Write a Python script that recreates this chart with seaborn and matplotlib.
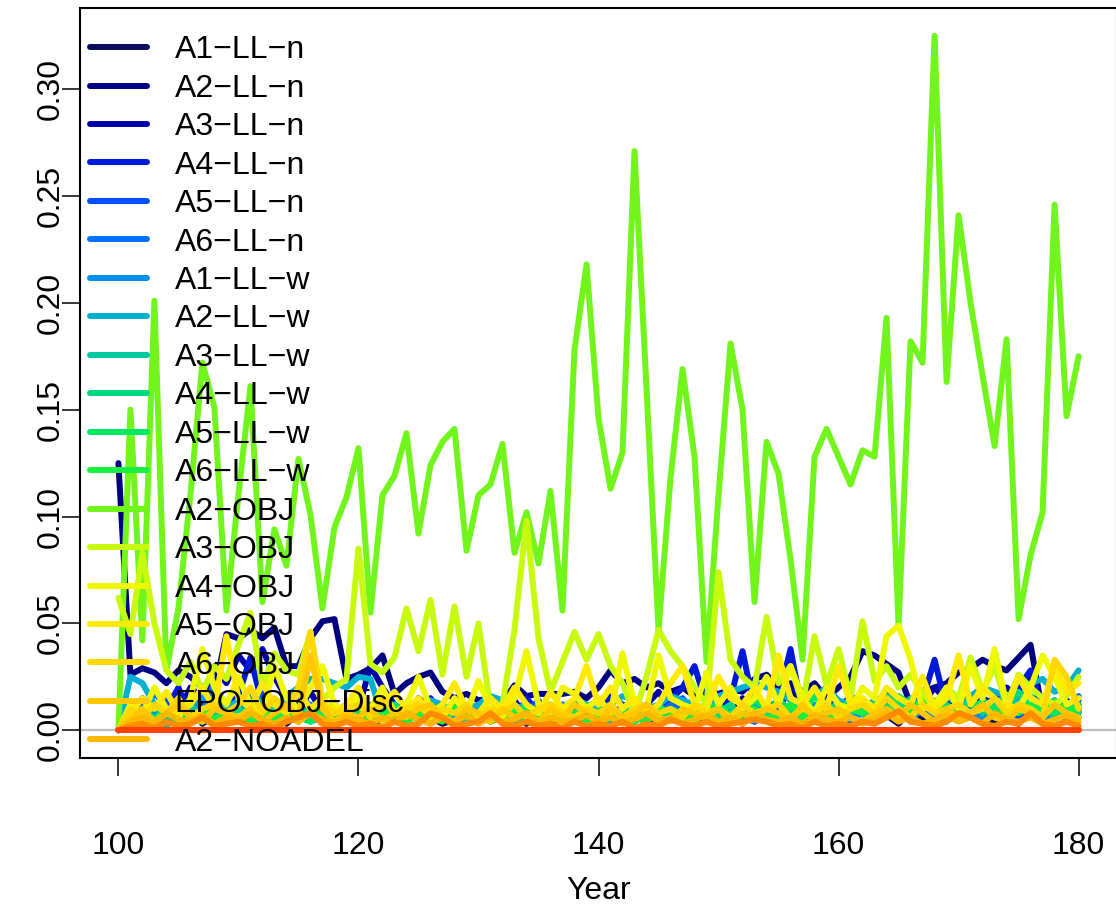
import numpy as np
import pandas as pd
import matplotlib
matplotlib.use("Agg")
import matplotlib.pyplot as plt
from matplotlib.lines import Line2D
import seaborn as sns

years = list(range(100, 181))

series_names = ["A1-LL-n", "A2-LL-n", "A3-LL-n", "A4-LL-n", "A5-LL-n", "A6-LL-n",
                "A1-LL-w", "A2-LL-w", "A3-LL-w", "A4-LL-w", "A5-LL-w", "A6-LL-w",
                "A2-OBJ", "A3-OBJ", "A4-OBJ", "A5-OBJ", "A6-OBJ",
                "EPO-OBJ-Disc", "A2-NOADEL"]
hidden_names = ["extra_1", "extra_2"]

series_colors = ["#0a0a60", "#000080", "#0000a8", "#0018d8", "#0050f8", "#0070ff",
                 "#0090f0", "#00b0d0", "#00c8a0", "#00d880", "#00e860", "#18f040",
                 "#72f51c", "#c8fa10", "#f0f800", "#ffea00", "#ffd800",
                 "#ffc800", "#ffb800"]
hidden_colors = ["#ff8c00", "#ff4000"]

A1_LL_n = [0.000, 0.008, 0.005, 0.010, 0.004, 0.006, 0.012, 0.003, 0.007, 0.009,
           0.005, 0.011, 0.004, 0.006, 0.003, 0.008, 0.005, 0.010, 0.004, 0.006,
           0.008, 0.003, 0.005, 0.007, 0.004, 0.009, 0.006, 0.003, 0.005, 0.008,
           0.004, 0.006, 0.010, 0.005, 0.003, 0.007, 0.004, 0.006, 0.009, 0.005,
           0.008, 0.004, 0.006, 0.011, 0.005, 0.003, 0.007, 0.010, 0.004, 0.006,
           0.005, 0.008, 0.003, 0.009, 0.006, 0.004, 0.007, 0.012, 0.005, 0.008,
           0.004, 0.006, 0.010, 0.005, 0.007, 0.003, 0.009, 0.006, 0.004, 0.008,
           0.005, 0.011, 0.007, 0.004, 0.006, 0.003, 0.010, 0.005, 0.008, 0.012,
           0.009]
A2_LL_n = [0.125, 0.026, 0.029, 0.027, 0.022, 0.028, 0.025, 0.020, 0.018, 0.045,
           0.043, 0.047, 0.043, 0.048, 0.030, 0.030, 0.043, 0.051, 0.052, 0.024,
           0.026, 0.029, 0.035, 0.017, 0.022, 0.025, 0.027, 0.018, 0.015, 0.017,
           0.014, 0.015, 0.013, 0.021, 0.016, 0.017, 0.017, 0.017, 0.018, 0.015,
           0.020, 0.028, 0.022, 0.024, 0.020, 0.022, 0.018, 0.020, 0.016, 0.018,
           0.017, 0.019, 0.018, 0.024, 0.026, 0.020, 0.022, 0.018, 0.022, 0.015,
           0.020, 0.025, 0.037, 0.035, 0.031, 0.027, 0.012, 0.018, 0.020, 0.022,
           0.027, 0.029, 0.033, 0.030, 0.028, 0.034, 0.040, 0.008, 0.010, 0.012,
           0.006]
A3_LL_n = [0.000, 0.010, 0.006, 0.004, 0.012, 0.008, 0.020, 0.015, 0.030, 0.022,
           0.035, 0.028, 0.038, 0.025, 0.015, 0.010, 0.018, 0.008, 0.012, 0.006,
           0.010, 0.030, 0.020, 0.012, 0.008, 0.015, 0.010, 0.006, 0.012, 0.005,
           0.008, 0.004, 0.010, 0.014, 0.006, 0.009, 0.005, 0.012, 0.008, 0.010,
           0.014, 0.008, 0.010, 0.006, 0.012, 0.018, 0.010, 0.014, 0.008, 0.012,
           0.010, 0.006, 0.015, 0.008, 0.012, 0.010, 0.020, 0.012, 0.008, 0.014,
           0.010, 0.016, 0.012, 0.008, 0.015, 0.010, 0.006, 0.012, 0.020, 0.014,
           0.010, 0.008, 0.015, 0.012, 0.020, 0.016, 0.025, 0.010, 0.014, 0.008,
           0.012]
A4_LL_n = [0.000, 0.008, 0.015, 0.005, 0.010, 0.020, 0.006, 0.012, 0.004, 0.010,
           0.016, 0.034, 0.012, 0.008, 0.015, 0.006, 0.010, 0.004, 0.008, 0.012,
           0.006, 0.010, 0.004, 0.008, 0.012, 0.006, 0.015, 0.008, 0.004, 0.010,
           0.006, 0.012, 0.008, 0.005, 0.015, 0.008, 0.004, 0.010, 0.006, 0.012,
           0.008, 0.016, 0.012, 0.008, 0.004, 0.010, 0.014, 0.020, 0.030, 0.012,
           0.008, 0.015, 0.037, 0.010, 0.006, 0.015, 0.038, 0.008, 0.004, 0.012,
           0.008, 0.014, 0.010, 0.006, 0.018, 0.012, 0.008, 0.014, 0.033, 0.010,
           0.006, 0.012, 0.008, 0.016, 0.010, 0.020, 0.028, 0.010, 0.006, 0.014,
           0.010]
A5_LL_n = [0.000, 0.005, 0.012, 0.008, 0.015, 0.004, 0.010, 0.018, 0.006, 0.008,
           0.012, 0.006, 0.020, 0.010, 0.005, 0.014, 0.008, 0.004, 0.010, 0.006,
           0.012, 0.008, 0.004, 0.010, 0.006, 0.014, 0.005, 0.010, 0.008, 0.004,
           0.012, 0.006, 0.010, 0.004, 0.008, 0.014, 0.005, 0.009, 0.012, 0.006,
           0.010, 0.005, 0.012, 0.008, 0.004, 0.010, 0.006, 0.015, 0.008, 0.005,
           0.012, 0.006, 0.010, 0.004, 0.008, 0.012, 0.005, 0.010, 0.006, 0.014,
           0.008, 0.004, 0.012, 0.006, 0.010, 0.005, 0.014, 0.008, 0.004, 0.010,
           0.006, 0.012, 0.004, 0.010, 0.008, 0.005, 0.012, 0.006, 0.010, 0.004,
           0.014]
A6_LL_n = [0.000, 0.012, 0.006, 0.018, 0.010, 0.005, 0.014, 0.008, 0.022, 0.006,
           0.010, 0.015, 0.008, 0.004, 0.012, 0.020, 0.010, 0.006, 0.004, 0.008,
           0.005, 0.010, 0.014, 0.006, 0.004, 0.010, 0.008, 0.012, 0.005, 0.010,
           0.006, 0.010, 0.004, 0.012, 0.008, 0.005, 0.010, 0.006, 0.014, 0.008,
           0.005, 0.012, 0.006, 0.010, 0.004, 0.008, 0.012, 0.006, 0.010, 0.005,
           0.008, 0.012, 0.006, 0.004, 0.010, 0.014, 0.006, 0.010, 0.008, 0.005,
           0.012, 0.006, 0.004, 0.010, 0.008, 0.012, 0.005, 0.010, 0.006, 0.004,
           0.010, 0.006, 0.012, 0.008, 0.004, 0.010, 0.006, 0.014, 0.008, 0.010,
           0.016]
A1_LL_w = [0.000, 0.006, 0.015, 0.010, 0.004, 0.012, 0.008, 0.016, 0.010, 0.006,
           0.014, 0.008, 0.012, 0.006, 0.010, 0.004, 0.012, 0.008, 0.006, 0.010,
           0.008, 0.012, 0.006, 0.010, 0.004, 0.008, 0.012, 0.006, 0.010, 0.005,
           0.010, 0.006, 0.012, 0.008, 0.004, 0.010, 0.006, 0.012, 0.005, 0.008,
           0.012, 0.006, 0.010, 0.004, 0.008, 0.012, 0.006, 0.010, 0.005, 0.012,
           0.006, 0.010, 0.004, 0.012, 0.008, 0.006, 0.010, 0.005, 0.012, 0.008,
           0.010, 0.005, 0.008, 0.012, 0.006, 0.010, 0.004, 0.012, 0.008, 0.006,
           0.012, 0.008, 0.005, 0.010, 0.006, 0.012, 0.008, 0.004, 0.010, 0.012,
           0.008]
A2_LL_w = [0.000, 0.025, 0.022, 0.012, 0.006, 0.010, 0.014, 0.018, 0.012, 0.010,
           0.014, 0.018, 0.012, 0.010, 0.016, 0.020, 0.024, 0.024, 0.022, 0.020,
           0.025, 0.024, 0.006, 0.012, 0.008, 0.010, 0.014, 0.012, 0.008, 0.010,
           0.012, 0.016, 0.014, 0.010, 0.012, 0.008, 0.012, 0.010, 0.014, 0.012,
           0.010, 0.012, 0.016, 0.014, 0.010, 0.012, 0.016, 0.014, 0.012, 0.010,
           0.016, 0.018, 0.020, 0.022, 0.020, 0.018, 0.014, 0.012, 0.016, 0.020,
           0.014, 0.012, 0.010, 0.014, 0.016, 0.012, 0.010, 0.014, 0.012, 0.016,
           0.012, 0.016, 0.020, 0.018, 0.016, 0.014, 0.022, 0.024, 0.018, 0.020,
           0.028]
A3_LL_w = [0.000, 0.004, 0.010, 0.006, 0.002, 0.008, 0.012, 0.004, 0.006, 0.010,
           0.004, 0.008, 0.006, 0.012, 0.005, 0.010, 0.004, 0.006, 0.010, 0.008,
           0.004, 0.010, 0.006, 0.005, 0.012, 0.004, 0.008, 0.006, 0.010, 0.004,
           0.008, 0.005, 0.010, 0.006, 0.004, 0.012, 0.006, 0.008, 0.004, 0.010,
           0.006, 0.004, 0.010, 0.008, 0.005, 0.012, 0.006, 0.004, 0.010, 0.006,
           0.008, 0.004, 0.010, 0.006, 0.012, 0.005, 0.008, 0.004, 0.010, 0.006,
           0.004, 0.010, 0.008, 0.006, 0.012, 0.008, 0.015, 0.010, 0.012, 0.008,
           0.010, 0.014, 0.008, 0.012, 0.016, 0.010, 0.008, 0.012, 0.006, 0.010,
           0.008]
A4_LL_w = [0.000, 0.008, 0.004, 0.012, 0.006, 0.010, 0.004, 0.008, 0.012, 0.005,
           0.010, 0.006, 0.004, 0.012, 0.008, 0.005, 0.010, 0.004, 0.008, 0.006,
           0.012, 0.005, 0.008, 0.004, 0.010, 0.006, 0.012, 0.008, 0.004, 0.010,
           0.006, 0.012, 0.004, 0.008, 0.010, 0.005, 0.012, 0.006, 0.008, 0.004,
           0.010, 0.006, 0.004, 0.012, 0.008, 0.005, 0.010, 0.006, 0.012, 0.004,
           0.008, 0.012, 0.005, 0.010, 0.006, 0.015, 0.008, 0.012, 0.006, 0.010,
           0.012, 0.008, 0.014, 0.010, 0.016, 0.012, 0.008, 0.014, 0.010, 0.012,
           0.008, 0.014, 0.010, 0.006, 0.012, 0.018, 0.010, 0.008, 0.012, 0.006,
           0.010]
A5_LL_w = [0.000, 0.006, 0.010, 0.004, 0.008, 0.012, 0.006, 0.004, 0.010, 0.008,
           0.004, 0.012, 0.008, 0.005, 0.010, 0.006, 0.004, 0.012, 0.008, 0.006,
           0.010, 0.004, 0.008, 0.012, 0.006, 0.010, 0.004, 0.008, 0.012, 0.006,
           0.004, 0.010, 0.008, 0.006, 0.012, 0.004, 0.010, 0.006, 0.008, 0.012,
           0.005, 0.010, 0.008, 0.004, 0.012, 0.006, 0.010, 0.008, 0.004, 0.010,
           0.012, 0.006, 0.008, 0.014, 0.010, 0.006, 0.012, 0.008, 0.016, 0.010,
           0.008, 0.014, 0.010, 0.012, 0.008, 0.016, 0.012, 0.010, 0.014, 0.008,
           0.012, 0.008, 0.014, 0.010, 0.006, 0.012, 0.016, 0.010, 0.008, 0.012,
           0.006]
A6_LL_w = [0.000, 0.004, 0.008, 0.005, 0.010, 0.004, 0.006, 0.010, 0.005, 0.008,
           0.006, 0.004, 0.010, 0.006, 0.008, 0.004, 0.010, 0.006, 0.005, 0.008,
           0.004, 0.008, 0.006, 0.010, 0.004, 0.008, 0.006, 0.004, 0.010, 0.006,
           0.008, 0.004, 0.006, 0.010, 0.005, 0.008, 0.004, 0.010, 0.006, 0.004,
           0.008, 0.010, 0.005, 0.006, 0.004, 0.010, 0.008, 0.005, 0.006, 0.010,
           0.004, 0.008, 0.006, 0.010, 0.005, 0.008, 0.012, 0.006, 0.010, 0.008,
           0.006, 0.010, 0.008, 0.012, 0.006, 0.010, 0.008, 0.014, 0.010, 0.006,
           0.010, 0.008, 0.012, 0.006, 0.010, 0.008, 0.012, 0.006, 0.014, 0.008,
           0.012]
A2_OBJ = [0.000, 0.150, 0.042, 0.201, 0.028, 0.057, 0.110, 0.172, 0.151, 0.056,
          0.110, 0.161, 0.060, 0.094, 0.077, 0.127, 0.101, 0.057, 0.095, 0.109,
          0.132, 0.055, 0.110, 0.119, 0.139, 0.092, 0.124, 0.135, 0.141, 0.084,
          0.110, 0.115, 0.134, 0.083, 0.102, 0.078, 0.112, 0.056, 0.178, 0.218,
          0.146, 0.113, 0.130, 0.271, 0.160, 0.047, 0.118, 0.169, 0.128, 0.032,
          0.110, 0.181, 0.150, 0.060, 0.135, 0.120, 0.080, 0.033, 0.128, 0.141,
          0.128, 0.115, 0.131, 0.128, 0.193, 0.049, 0.182, 0.172, 0.325, 0.163,
          0.241, 0.200, 0.166, 0.133, 0.183, 0.052, 0.082, 0.102, 0.246, 0.147,
          0.175]
A3_OBJ = [0.062, 0.045, 0.083, 0.050, 0.028, 0.022, 0.032, 0.018, 0.030, 0.024,
          0.040, 0.055, 0.020, 0.036, 0.028, 0.026, 0.046, 0.014, 0.020, 0.024,
          0.085, 0.031, 0.027, 0.034, 0.057, 0.037, 0.061, 0.026, 0.058, 0.025,
          0.050, 0.010, 0.012, 0.047, 0.098, 0.043, 0.018, 0.032, 0.046, 0.033,
          0.045, 0.030, 0.022, 0.007, 0.025, 0.047, 0.037, 0.030, 0.020, 0.012,
          0.074, 0.033, 0.025, 0.020, 0.053, 0.022, 0.030, 0.012, 0.044, 0.021,
          0.038, 0.015, 0.051, 0.023, 0.030, 0.020, 0.026, 0.018, 0.010, 0.020,
          0.015, 0.034, 0.018, 0.030, 0.012, 0.026, 0.020, 0.015, 0.012, 0.016,
          0.025]
A4_OBJ = [0.000, 0.012, 0.008, 0.020, 0.010, 0.006, 0.015, 0.038, 0.020, 0.012,
          0.025, 0.012, 0.008, 0.030, 0.015, 0.010, 0.020, 0.030, 0.012, 0.008,
          0.015, 0.010, 0.020, 0.008, 0.012, 0.025, 0.010, 0.006, 0.015, 0.008,
          0.023, 0.010, 0.006, 0.015, 0.037, 0.012, 0.008, 0.020, 0.017, 0.010,
          0.015, 0.008, 0.036, 0.012, 0.010, 0.035, 0.015, 0.012, 0.010, 0.027,
          0.012, 0.020, 0.010, 0.015, 0.025, 0.012, 0.030, 0.015, 0.008, 0.020,
          0.012, 0.010, 0.020, 0.015, 0.044, 0.049, 0.033, 0.010, 0.012, 0.020,
          0.010, 0.030, 0.015, 0.038, 0.012, 0.010, 0.020, 0.035, 0.025, 0.012,
          0.015]
A5_OBJ = [0.000, 0.008, 0.015, 0.010, 0.018, 0.008, 0.012, 0.020, 0.010, 0.044,
          0.015, 0.010, 0.022, 0.012, 0.008, 0.018, 0.010, 0.015, 0.008, 0.012,
          0.020, 0.008, 0.012, 0.018, 0.010, 0.015, 0.008, 0.012, 0.022, 0.010,
          0.008, 0.015, 0.010, 0.020, 0.012, 0.008, 0.018, 0.010, 0.015, 0.030,
          0.012, 0.020, 0.010, 0.015, 0.008, 0.012, 0.022, 0.030, 0.012, 0.010,
          0.025, 0.015, 0.012, 0.020, 0.010, 0.035, 0.015, 0.012, 0.020, 0.010,
          0.030, 0.012, 0.015, 0.010, 0.020, 0.015, 0.012, 0.025, 0.010, 0.015,
          0.035, 0.012, 0.020, 0.015, 0.010, 0.025, 0.015, 0.012, 0.030, 0.018,
          0.022]
A6_OBJ = [0.000, 0.010, 0.006, 0.012, 0.008, 0.015, 0.006, 0.010, 0.012, 0.008,
          0.012, 0.020, 0.008, 0.015, 0.010, 0.020, 0.046, 0.012, 0.008, 0.010,
          0.012, 0.006, 0.015, 0.008, 0.010, 0.012, 0.006, 0.010, 0.008, 0.012,
          0.006, 0.010, 0.008, 0.012, 0.006, 0.010, 0.012, 0.008, 0.006, 0.010,
          0.008, 0.012, 0.006, 0.010, 0.012, 0.008, 0.010, 0.006, 0.012, 0.008,
          0.010, 0.006, 0.012, 0.008, 0.010, 0.012, 0.006, 0.010, 0.008, 0.012,
          0.006, 0.010, 0.012, 0.008, 0.015, 0.010, 0.006, 0.012, 0.008, 0.010,
          0.012, 0.008, 0.010, 0.015, 0.008, 0.012, 0.010, 0.006, 0.033, 0.025,
          0.010]
EPO_OBJ_Disc = [0.000, 0.005, 0.010, 0.004, 0.008, 0.012, 0.006, 0.004, 0.010, 0.008,
                0.006, 0.010, 0.004, 0.008, 0.012, 0.006, 0.035, 0.010, 0.004, 0.008,
                0.006, 0.010, 0.004, 0.008, 0.006, 0.010, 0.012, 0.006, 0.004, 0.010,
                0.008, 0.004, 0.010, 0.006, 0.008, 0.004, 0.010, 0.006, 0.012, 0.008,
                0.004, 0.010, 0.006, 0.008, 0.012, 0.006, 0.004, 0.010, 0.008, 0.006,
                0.010, 0.004, 0.008, 0.006, 0.010, 0.008, 0.004, 0.012, 0.006, 0.008,
                0.010, 0.006, 0.004, 0.008, 0.010, 0.006, 0.012, 0.008, 0.004, 0.010,
                0.006, 0.008, 0.012, 0.006, 0.004, 0.010, 0.008, 0.006, 0.012, 0.008,
                0.006]
A2_NOADEL = [0.000, 0.004, 0.006, 0.003, 0.008, 0.005, 0.004, 0.007, 0.003, 0.006,
             0.004, 0.008, 0.005, 0.003, 0.006, 0.004, 0.008, 0.005, 0.003, 0.006,
             0.005, 0.003, 0.006, 0.004, 0.008, 0.005, 0.003, 0.006, 0.004, 0.007,
             0.003, 0.006, 0.004, 0.005, 0.008, 0.003, 0.006, 0.004, 0.005, 0.007,
             0.004, 0.006, 0.003, 0.005, 0.008, 0.004, 0.006, 0.003, 0.005, 0.007,
             0.004, 0.006, 0.003, 0.008, 0.005, 0.004, 0.006, 0.003, 0.007, 0.005,
             0.004, 0.006, 0.003, 0.005, 0.008, 0.004, 0.006, 0.003, 0.005, 0.007,
             0.004, 0.006, 0.003, 0.008, 0.005, 0.004, 0.006, 0.003, 0.005, 0.007,
             0.004]
extra_1 = [0.000, 0.002, 0.003, 0.001, 0.004, 0.002, 0.003, 0.006, 0.002, 0.003,
           0.004, 0.002, 0.003, 0.001, 0.004, 0.006, 0.008, 0.003, 0.002, 0.004,
           0.002, 0.003, 0.001, 0.004, 0.002, 0.003, 0.008, 0.006, 0.002, 0.003,
           0.004, 0.008, 0.003, 0.002, 0.004, 0.002, 0.003, 0.001, 0.004, 0.002,
           0.003, 0.002, 0.004, 0.001, 0.003, 0.002, 0.005, 0.003, 0.002, 0.004,
           0.002, 0.003, 0.004, 0.005, 0.004, 0.002, 0.003, 0.001, 0.004, 0.002,
           0.003, 0.002, 0.004, 0.003, 0.006, 0.009, 0.004, 0.003, 0.002, 0.004,
           0.008, 0.006, 0.003, 0.002, 0.004, 0.003, 0.008, 0.003, 0.002, 0.004,
           0.002]
extra_2 = [0.000, 0.000, 0.000, 0.000, 0.000, 0.000, 0.000, 0.000, 0.000, 0.000,
           0.000, 0.000, 0.000, 0.000, 0.000, 0.000, 0.000, 0.000, 0.000, 0.000,
           0.000, 0.000, 0.000, 0.000, 0.000, 0.000, 0.000, 0.000, 0.000, 0.000,
           0.000, 0.000, 0.000, 0.000, 0.000, 0.000, 0.000, 0.000, 0.000, 0.000,
           0.000, 0.000, 0.000, 0.000, 0.000, 0.000, 0.000, 0.000, 0.000, 0.000,
           0.000, 0.000, 0.000, 0.000, 0.000, 0.000, 0.000, 0.000, 0.000, 0.000,
           0.000, 0.000, 0.000, 0.000, 0.000, 0.000, 0.000, 0.000, 0.000, 0.000,
           0.000, 0.000, 0.000, 0.000, 0.000, 0.000, 0.000, 0.000, 0.000, 0.000,
           0.000]

x_ticks = [100, 120, 140, 160, 180]
y_ticks = [0.00, 0.05, 0.10, 0.15, 0.20, 0.25, 0.30]
x_label = "Year"

all_values = [A1_LL_n, A2_LL_n, A3_LL_n, A4_LL_n, A5_LL_n, A6_LL_n,
              A1_LL_w, A2_LL_w, A3_LL_w, A4_LL_w, A5_LL_w, A6_LL_w,
              A2_OBJ, A3_OBJ, A4_OBJ, A5_OBJ, A6_OBJ, EPO_OBJ_Disc, A2_NOADEL,
              extra_1, extra_2]
all_names = series_names + hidden_names
all_colors = series_colors + hidden_colors

frames = []
for name, vals in zip(all_names, all_values):
    n = min(len(vals), len(years))
    frames.append(pd.DataFrame({"Year": years[:n], "value": vals[:n], "series": name}))
df = pd.concat(frames, ignore_index=True)

sns.set_theme(style="white")
plt.rcParams["font.family"] = ["Liberation Sans", "DejaVu Sans"]
plt.rcParams["text.color"] = "black"
plt.rcParams["axes.labelcolor"] = "black"

W, H = 1116, 907
fig = plt.figure(figsize=(W / 100, H / 100), dpi=100)
ax = fig.add_axes([80 / W, 1 - 758 / H, (1117 - 80) / W, 750 / H])

ax.axhline(0, color="#bebebe", lw=1.6, zorder=1)

lw = 4.3
sns.lineplot(data=df, x="Year", y="value", hue="series", hue_order=all_names,
             palette=dict(zip(all_names, all_colors)), estimator=None, sort=False,
             linewidth=lw, legend=False, ax=ax, zorder=2,
             solid_capstyle="round", solid_joinstyle="round")

ax.set_xlim(96.8, 183.2)
ax.set_ylim(-0.013, 0.338)
ax.set_xticks(x_ticks)
ax.set_xticklabels([str(t) for t in x_ticks])
ax.set_yticks(y_ticks)
ax.set_yticklabels([f"{t:.2f}" for t in y_ticks], rotation=90, va="center")
ax.set_xlabel(x_label, fontsize=23, labelpad=11, color="black")
ax.set_ylabel("")

ax.tick_params(axis="both", which="major", direction="out", length=13, width=1.1,
               color="black", labelsize=23, labelcolor="black")
ax.tick_params(axis="x", pad=39.5)
ax.tick_params(axis="y", pad=-3)
ax.tick_params(bottom=True, left=True)

for s in ax.spines.values():
    s.set_visible(True)
    s.set_color("black")
    s.set_linewidth(1.5)

handles = [Line2D([0], [0], color=c, lw=lw, solid_capstyle="round")
           for c in series_colors]
labels = [n.replace("-", "\u2212") for n in series_names]
ax.legend(handles, labels, loc="upper left", bbox_to_anchor=(0.0096, 0.9637),
          frameon=False, fontsize=23, handlelength=1.8, handletextpad=0.85,
          labelspacing=0.265, borderpad=0, borderaxespad=0, labelcolor="black")

fig.savefig("out.png", dpi=100, facecolor="white")
